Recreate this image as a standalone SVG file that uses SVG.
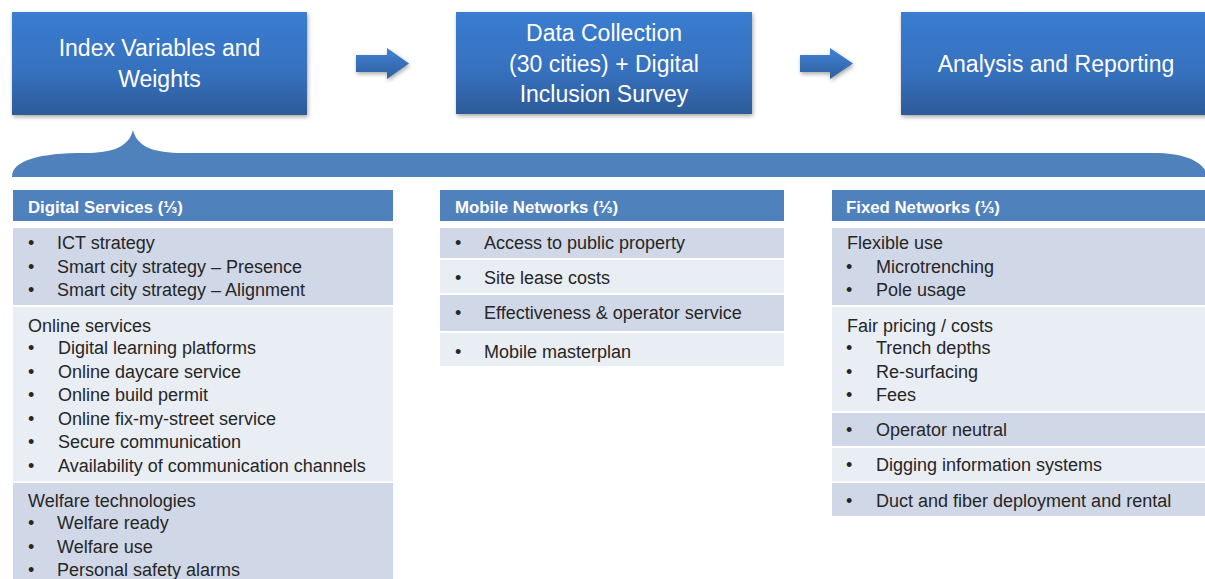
<svg xmlns="http://www.w3.org/2000/svg" width="1205" height="579" viewBox="0 0 1205 579">
  <style>
    .step { font-family: "Liberation Sans", Arial, sans-serif; font-size: 23px; fill: #ffffff; text-anchor: middle; }
    .hdr-bar { fill: #4f81bd; }
    .hdr { font-family: "Liberation Sans", Arial, sans-serif; font-size: 16.8px; font-weight: bold; fill: #ffffff; }
    .dark { fill: #d0d8e8; }
    .light { fill: #e9edf4; }
    .txt { font-family: "Liberation Sans", Arial, sans-serif; font-size: 18px; fill: #262626; }
    .bul { font-family: "Liberation Sans", Arial, sans-serif; font-size: 18px; fill: #262626; }
  </style>
  <defs>
    <linearGradient id="boxGrad" x1="0" y1="0" x2="0" y2="1">
      <stop offset="0" stop-color="#3a7dd1"/>
      <stop offset="0.6" stop-color="#3670bd"/>
      <stop offset="1" stop-color="#2d5b98"/>
    </linearGradient>
    <linearGradient id="arrowGrad" x1="0" y1="0" x2="0" y2="1">
      <stop offset="0" stop-color="#4183d4"/>
      <stop offset="1" stop-color="#2f5f9f"/>
    </linearGradient>
    <filter id="shadow" x="-5%" y="-10%" width="112%" height="125%">
      <feGaussianBlur in="SourceAlpha" stdDeviation="2"/>
      <feOffset dx="1" dy="2" result="b"/>
      <feComponentTransfer><feFuncA type="linear" slope="0.35"/></feComponentTransfer>
      <feMerge><feMergeNode/><feMergeNode in="SourceGraphic"/></feMerge>
    </filter>
  </defs>

  <rect width="1205" height="579" fill="#ffffff"/>

  <!-- process steps -->
  <g id="step-index">
    <rect x="12" y="12" width="295" height="103" fill="url(#boxGrad)" filter="url(#shadow)"/>
    <text class="step" x="159.5" y="56">Index Variables and</text>
    <text class="step" x="159.5" y="87">Weights</text>
  </g>
  <g id="step-data">
    <rect x="456" y="12" width="296" height="102" fill="url(#boxGrad)" filter="url(#shadow)"/>
    <text class="step" x="604" y="41">Data Collection</text>
    <text class="step" x="604" y="72">(30 cities) + Digital</text>
    <text class="step" x="604" y="102">Inclusion Survey</text>
  </g>
  <g id="step-analysis">
    <rect x="901" y="12" width="312" height="103" fill="url(#boxGrad)" filter="url(#shadow)"/>
    <text class="step" x="1056" y="72">Analysis and Reporting</text>
  </g>

  <!-- connectors between steps -->
  <g id="connectors" fill="url(#arrowGrad)" filter="url(#shadow)">
    <polygon points="356,55 387,55 387,48 409,63.5 387,79 387,72 356,72"/>
    <polygon points="800,55 830,55 830,48 853,63.5 830,79 830,72 800,72"/>
  </g>

  <!-- brace grouping the index categories -->
  <g id="brace">
    <path d="M12,177 C12,160 40,153 85,153 C112,153 129,147 133,130 C137,147 154,153 183,153 L1155,153 C1185,153 1205,162 1208,177 Z" fill="#4f81bd"/>
  </g>

  <!-- Digital Services -->
  <g id="digital-services">
    <rect class="hdr-bar" x="13" y="190" width="380" height="31"/>
    <text class="hdr" x="28" y="213">Digital Services (⅓)</text>
    <rect class="dark" x="13" y="228" width="380" height="77"/>
    <rect class="light" x="13" y="307" width="380" height="174"/>
    <rect class="dark" x="13" y="483" width="380" height="96"/>
    <g class="bul">
      <text x="28" y="249">•</text><text x="28" y="273">•</text><text x="28" y="296">•</text>
      <text x="28" y="354">•</text><text x="28" y="378">•</text><text x="28" y="401">•</text>
      <text x="28" y="425">•</text><text x="28" y="448">•</text><text x="28" y="472">•</text>
      <text x="28" y="529">•</text><text x="28" y="553">•</text><text x="28" y="576">•</text>
    </g>
    <g class="txt">
      <text x="57" y="249">ICT strategy</text>
      <text x="57" y="273">Smart city strategy – Presence</text>
      <text x="57" y="296">Smart city strategy – Alignment</text>
      <text x="28" y="332">Online services</text>
      <text x="58" y="354">Digital learning platforms</text>
      <text x="58" y="378">Online daycare service</text>
      <text x="58" y="401">Online build permit</text>
      <text x="58" y="425">Online fix-my-street service</text>
      <text x="58" y="448">Secure communication</text>
      <text x="58" y="472">Availability of communication channels</text>
      <text x="28" y="507">Welfare technologies</text>
      <text x="57" y="529">Welfare ready</text>
      <text x="57" y="553">Welfare use</text>
      <text x="57" y="576">Personal safety alarms</text>
    </g>
  </g>

  <!-- Mobile Networks -->
  <g id="mobile-networks">
    <rect class="hdr-bar" x="440" y="190" width="344" height="31"/>
    <text class="hdr" x="455" y="213">Mobile Networks (⅓)</text>
    <rect class="dark" x="440" y="228" width="344" height="30"/>
    <rect class="light" x="440" y="260" width="344" height="33"/>
    <rect class="dark" x="440" y="295" width="344" height="36"/>
    <rect class="light" x="440" y="333" width="344" height="33"/>
    <g class="bul">
      <text x="455" y="249">•</text><text x="455" y="284">•</text>
      <text x="455" y="319">•</text><text x="455" y="358">•</text>
    </g>
    <g class="txt">
      <text x="484" y="249">Access to public property</text>
      <text x="484" y="284">Site lease costs</text>
      <text x="484" y="319">Effectiveness &amp; operator service</text>
      <text x="484" y="358">Mobile masterplan</text>
    </g>
  </g>

  <!-- Fixed Networks -->
  <g id="fixed-networks">
    <rect class="hdr-bar" x="832" y="190" width="373" height="31"/>
    <text class="hdr" x="846" y="213">Fixed Networks (⅓)</text>
    <rect class="dark" x="832" y="228" width="373" height="77"/>
    <rect class="light" x="832" y="307" width="373" height="104"/>
    <rect class="dark" x="832" y="413" width="373" height="33"/>
    <rect class="light" x="832" y="448" width="373" height="33"/>
    <rect class="dark" x="832" y="483" width="373" height="33"/>
    <g class="bul">
      <text x="846" y="273">•</text><text x="846" y="296">•</text>
      <text x="846" y="354">•</text><text x="846" y="378">•</text><text x="846" y="401">•</text>
      <text x="846" y="436">•</text><text x="846" y="471">•</text><text x="846" y="507">•</text>
    </g>
    <g class="txt">
      <text x="847" y="249">Flexible use</text>
      <text x="876" y="273">Microtrenching</text>
      <text x="876" y="296">Pole usage</text>
      <text x="847" y="332">Fair pricing / costs</text>
      <text x="876" y="354">Trench depths</text>
      <text x="876" y="378">Re-surfacing</text>
      <text x="876" y="401">Fees</text>
      <text x="876" y="436">Operator neutral</text>
      <text x="876" y="471">Digging information systems</text>
      <text x="876" y="507">Duct and fiber deployment and rental</text>
    </g>
  </g>
</svg>
